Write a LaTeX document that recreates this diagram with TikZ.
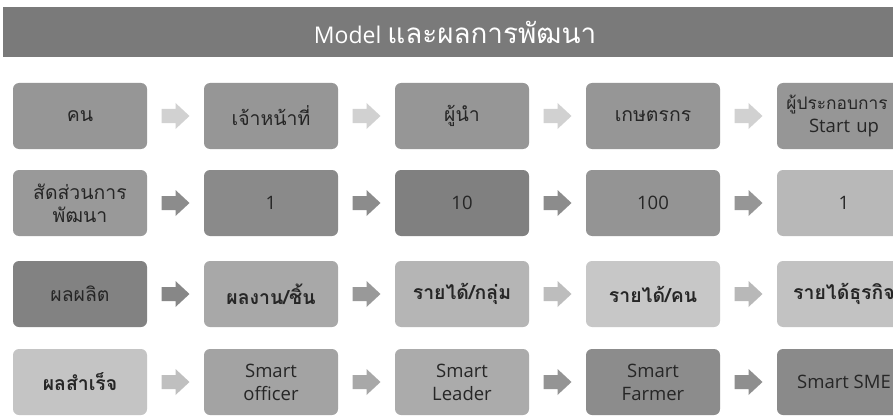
\documentclass[tikz,border=0pt]{standalone}
\usepackage{fontspec}
\setmainfont{Open Sans}
\newfontfamily\thai[Script=Thai,Scale=1.05]{Loma}
\usetikzlibrary{calc}
\definecolor{titlebar}{HTML}{7A7A7A}
\definecolor{txt}{HTML}{262626}
\tikzset{
  box/.style={rounded corners=6pt, minimum width=134pt, minimum height=66pt, inner sep=2pt,
    align=center, font=\fontsize{18.5}{23}\selectfont, text=txt, fill=white!#1!black}
}
\newcommand{\blkarrow}[4]{%
  \coordinate (#1) at ($(#2.east)!0.5!(#3.west)$);
  \fill[white!#4!black, shift={(#1)}] (-14,-7) -- (0,-7) -- (0,-13) -- (14,0) -- (0,13) -- (0,7) -- (-14,7) -- cycle;}
\newcommand{\tb}[1]{{\thai\bfseries #1}}
\begin{document}
\begin{tikzpicture}[x=1pt,y=-1pt]
\useasboundingbox (0,0) rectangle (893,417);
\clip (0,0) rectangle (893,417);
\fill[white] (0,0) rectangle (893,417);
\node[fill=titlebar, minimum width=890pt, minimum height=50pt, inner sep=0pt, anchor=north west] (title) at (3,7) {};
\node[text=white, font=\fontsize{23}{26}\selectfont] (titletext) at (455,32) {Model {\thai\fontsize{26.5}{30}\selectfont และผลการพัฒนา}};
% row 1
\node[box=59] (a1) at (80,116) {\thai คน};
\node[box=59] (a2) at (271,116) {\thai เจ้าหน้าที่};
\node[box=59] (a3) at (462,116) {\thai ผู้นำ};
\node[box=59] (a4) at (653,116) {\thai เกษตรกร};
\node[box=59, text width=120pt] (a5) at (844,116) {\hspace*{-14pt}{\thai\fontsize{16.5}{23}\selectfont ผู้ประกอบการ}\\Start up};
% row 2
\node[box=60] (b1) at (80,203) {{\thai สัดส่วนการ}\\{\thai พัฒนา}};
\node[box=54] (b2) at (271,203) {1};
\node[box=50] (b3) at (462,203) {10};
\node[box=58] (b4) at (653,203) {100};
\node[box=72] (b5) at (844,203) {1};
% row 3
\node[box=51] (c1) at (80,294) {\thai ผลผลิต};
\node[box=66] (c2) at (271,294) {\tb{ผลงาน/ชิ้น}};
\node[box=71] (c3) at (462,294) {\tb{รายได้/กลุ่ม}};
\node[box=78] (c4) at (653,294) {\tb{รายได้/คน}};
\node[box=76] (c5) at (844,294) {\tb{รายได้ธุรกิจ}};
% row 4
\node[box=77] (d1) at (80,382) {\tb{ผลสำเร็จ}};
\node[box=64] (d2) at (271,382) {Smart\\officer};
\node[box=67] (d3) at (462,382) {Smart\\Leader};
\node[box=55] (d4) at (653,382) {Smart\\Farmer};
\node[box=54] (d5) at (844,382) {Smart SME};
% arrows
\blkarrow{ra1}{a1}{a2}{82}
\blkarrow{ra2}{a2}{a3}{82}
\blkarrow{ra3}{a3}{a4}{82}
\blkarrow{ra4}{a4}{a5}{82}
\blkarrow{rb1}{b1}{b2}{55}
\blkarrow{rb2}{b2}{b3}{55}
\blkarrow{rb3}{b3}{b4}{55}
\blkarrow{rb4}{b4}{b5}{59}
\blkarrow{rc1}{c1}{c2}{53}
\blkarrow{rc2}{c2}{c3}{60}
\blkarrow{rc3}{c3}{c4}{74}
\blkarrow{rc4}{c4}{c5}{72}
\blkarrow{rd1}{d1}{d2}{75}
\blkarrow{rd2}{d2}{d3}{66}
\blkarrow{rd3}{d3}{d4}{58}
\blkarrow{rd4}{d4}{d5}{56}
\end{tikzpicture}
\end{document}
